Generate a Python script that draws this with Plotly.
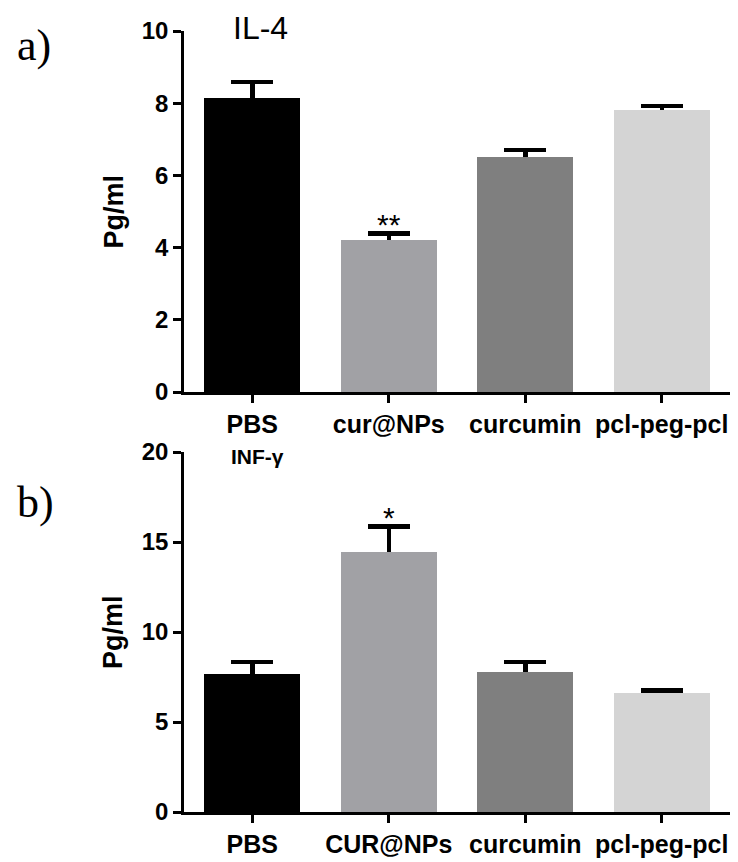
import plotly.graph_objects as go

# ---- data ----
categories_a = ["PBS", "cur@NPs", "curcumin", "pcl-peg-pcl"]
il4_mean = [8.15, 4.22, 6.50, 7.80]
il4_sem = [0.44, 0.17, 0.21, 0.12]
il4_ticks = [0, 2, 4, 6, 8, 10]

categories_b = ["PBS", "CUR@NPs", "curcumin", "pcl-peg-pcl"]
infg_mean = [7.67, 14.43, 7.76, 6.59]
infg_sem = [0.66, 1.42, 0.57, 0.17]
infg_ticks = [0, 5, 10, 15, 20]

bar_colors = ["#000000", "#a1a1a5", "#7f7f7f", "#d4d4d4"]

W, H = 738, 862
SANS = "Liberation Sans"
SERIF = "Liberation Serif"

# pixel rows of the two panels (top of axis, bottom of axis)
TOP_A, BOT_A = 31, 392
TOP_B, BOT_B = 452, 812

def py(p):
    return 1 - p / H

def px(p):
    return p / W

def rel(p, top, bot):
    return (bot - p) / (bot - top)

fig = go.Figure()

def add_panel(cats, mean, sem, xa, ya):
    # underlying bars carrying the error bars
    fig.add_trace(go.Bar(
        x=list(range(len(cats))), y=mean, width=0.7,
        marker=dict(color=bar_colors, line=dict(width=0)),
        error_y=dict(type="data", array=sem, symmetric=True,
                     color="black", thickness=4.5, width=21),
        xaxis=xa, yaxis=ya, showlegend=False, hoverinfo="skip"))
    # same bars drawn on top to hide lower half of error bars
    fig.add_trace(go.Bar(
        x=list(range(len(cats))), y=mean, width=0.7,
        marker=dict(color=bar_colors, line=dict(width=0)),
        xaxis=xa, yaxis=ya, showlegend=False))

add_panel(categories_a, il4_mean, il4_sem, "x", "y")
add_panel(categories_b, infg_mean, infg_sem, "x2", "y2")

tickfont = dict(family=SANS, size=24, color="black", weight="bold")
catfont = dict(family=SANS, size=25, color="black", weight="bold")

common_x = dict(range=[-0.5, 3.5], showline=True, linewidth=2.5, linecolor="black",
                ticks="outside", ticklen=8, tickwidth=2.5, tickcolor="black",
                showgrid=False, zeroline=False, tickfont=catfont, automargin=False,
                domain=[px(184), px(730)], tickmode="array",
                tickvals=list(range(4)))
common_y = dict(showline=True, linewidth=2.5, linecolor="black", automargin=False,
                ticks="outside", ticklen=8, tickwidth=2.5, tickcolor="black",
                showgrid=False, zeroline=False, tickfont=tickfont, tickmode="array")

fig.update_layout(
    width=W, height=H, margin=dict(l=0, r=0, t=0, b=0, autoexpand=False),
    paper_bgcolor="white", plot_bgcolor="white",
    barmode="overlay", bargap=0,
    xaxis=dict(common_x, ticktext=categories_a, anchor="y"),
    yaxis=dict(common_y, range=[0, 10], tickvals=il4_ticks,
               domain=[py(BOT_A), py(TOP_A)], anchor="x"),
    xaxis2=dict(common_x, ticktext=categories_b, anchor="y2"),
    yaxis2=dict(common_y, range=[0, 20], tickvals=infg_ticks,
                domain=[py(BOT_B), py(TOP_B)], anchor="x2"),
)

def note(text, x, y, yref, font, **kw):
    return dict(text=text, x=x, y=y, xref="paper", yref=yref, showarrow=False,
                xanchor="center", yanchor="middle", font=font, **kw)

ann = []
# y titles
ann.append(note("<b>Pg/ml</b>", px(113), 0.5, "y domain",
                dict(family=SANS, size=27, color="black"), textangle=-90))
ann.append(note("<b>Pg/ml</b>", px(113), 0.5, "y2 domain",
                dict(family=SANS, size=27, color="black"), textangle=-90))
# panel titles
ann.append(note("IL-4", px(260), rel(28, TOP_A, BOT_A), "y domain",
                dict(family=SANS, size=32, color="black")))
ann.append(note("<b>INF-γ</b>", px(257), rel(456, TOP_B, BOT_B), "y2 domain",
                dict(family=SANS, size=21, color="black")))
# panel letters
ann.append(note("a)", px(34), rel(45, TOP_A, BOT_A), "y domain",
                dict(family=SERIF, size=44, color="black")))
ann.append(note("b)", px(35), rel(502, TOP_B, BOT_B), "y2 domain",
                dict(family=SERIF, size=44, color="black")))
# significance stars
ann.append(dict(text="**", x=1, y=il4_mean[1] + il4_sem[1], xref="x", yref="y",
                xanchor="center", yanchor="middle", yshift=9, showarrow=False,
                font=dict(family=SANS, size=30, color="black")))
ann.append(dict(text="*", x=1, y=infg_mean[1] + infg_sem[1], xref="x2", yref="y2",
                xanchor="center", yanchor="middle", yshift=9, showarrow=False,
                font=dict(family=SANS, size=30, color="black")))
fig.update_layout(annotations=ann)

fig.write_html("out.html", config={"displayModeBar": False},
               post_script="document.body.style.margin='0';")
